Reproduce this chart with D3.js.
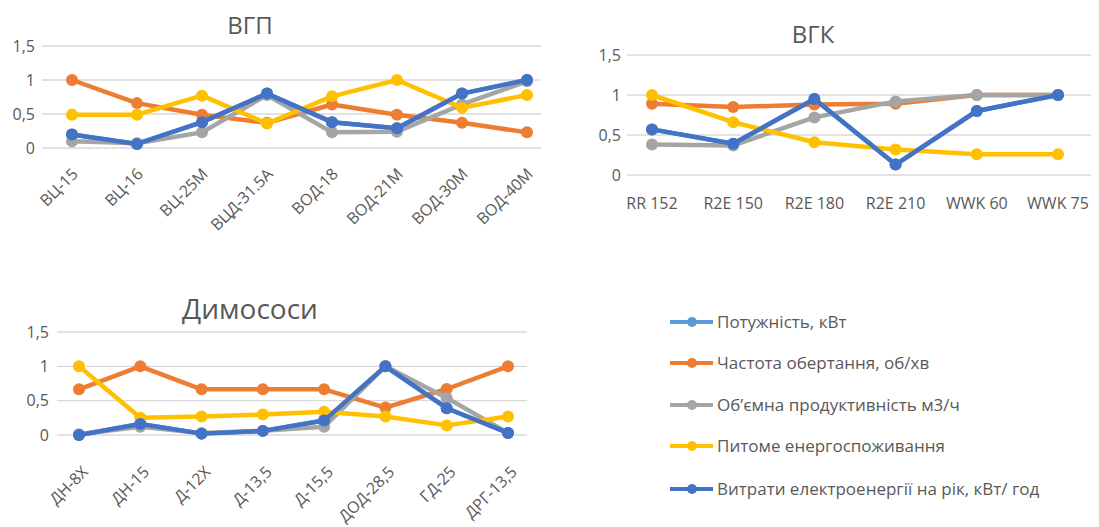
<!DOCTYPE html>
<html>
<head>
<meta charset="utf-8">
<script src="https://cdn.jsdelivr.net/npm/d3@7"></script>
<style>
  body { margin: 0; background: #fff; }
  svg text { font-family: "Open Sans", "Liberation Sans", Arial, sans-serif; fill: #595959; }
</style>
</head>
<body>
<svg id="chart" width="1099" height="527"></svg>
<script>
// Series shared by all three panels
const seriesNames = [
  "Потужність, кВт",
  "Частота обертання, об/хв",
  "Об’ємна продуктивність м3/ч",
  "Питоме енергоспоживання",
  "Витрати електроенергії на рік, кВт/ год"
];
const seriesColors = ["#5B9BD5", "#ED7D31", "#A5A5A5", "#FFC000", "#4472C4"];

const yTickValues = [0, 0.5, 1, 1.5];
const yTickLabels = ["0", "0,5", "1", "1,5"];

// ВГП
const vgpCategories = ["ВЦ-15", "ВЦ-16", "ВЦ-25М", "ВЦД-31.5А", "ВОД-18", "ВОД-21М", "ВОД-30М", "ВОД-40М"];
const vgpPower     = [0.2, 0.06, 0.38, 0.8, 0.38, 0.29, 0.8, 1.0];
const vgpSpeed     = [1.0, 0.66, 0.49, 0.37, 0.64, 0.49, 0.37, 0.23];
const vgpFlow      = [0.1, 0.07, 0.23, 0.78, 0.23, 0.24, 0.64, 0.98];
const vgpSpecific  = [0.49, 0.49, 0.77, 0.36, 0.76, 1.0, 0.59, 0.78];
const vgpAnnual    = [0.2, 0.06, 0.38, 0.8, 0.38, 0.29, 0.8, 1.0];

// ВГК
const vgkCategories = ["RR 152", "R2E 150", "R2E 180", "R2E 210", "WWK 60", "WWK 75"];
const vgkPower     = [0.57, 0.39, 0.95, 0.13, 0.8, 1.0];
const vgkSpeed     = [0.89, 0.85, 0.88, 0.89, 1.0, 1.0];
const vgkFlow      = [0.38, 0.37, 0.72, 0.92, 1.0, 1.0];
const vgkSpecific  = [1.0, 0.66, 0.41, 0.32, 0.26, 0.26];
const vgkAnnual    = [0.57, 0.39, 0.95, 0.13, 0.8, 1.0];

// Димососи
const fanCategories = ["ДН-8Х", "ДН-15", "Д-12Х", "Д-13,5", "Д-15,5", "ДОД-28,5", "ГД-25", "ДРГ-13,5"];
const fanPower     = [0.0, 0.16, 0.02, 0.06, 0.21, 1.0, 0.39, 0.03];
const fanSpeed     = [0.665, 1.0, 0.665, 0.665, 0.665, 0.4, 0.67, 1.0];
const fanFlow      = [0.01, 0.12, 0.03, 0.06, 0.12, 1.0, 0.54, 0.03];
const fanSpecific  = [1.0, 0.25, 0.27, 0.3, 0.34, 0.27, 0.14, 0.27];
const fanAnnual    = [0.0, 0.16, 0.02, 0.06, 0.21, 1.0, 0.39, 0.03];

const svg = d3.select("#chart");

const panels = [
  {
    title: "ВГП", titleX: 250, titleY: 25, titleSize: 24, titleBox: false,
    categories: vgpCategories,
    series: [vgpPower, vgpSpeed, vgpFlow, vgpSpecific, vgpAnnual],
    xRange: [72, 527], gridRange: [42, 541], yRange: [148, 46],
    tickX: 35, rotate: true, labelDx: 7, labelY: 175
  },
  {
    title: "ВГК", titleX: 813, titleY: 34, titleSize: 24, titleBox: false,
    categories: vgkCategories,
    series: [vgkPower, vgkSpeed, vgkFlow, vgkSpecific, vgkAnnual],
    xRange: [652, 1058], gridRange: [627, 1091], yRange: [175, 55],
    tickX: 621, rotate: false, labelY: 203
  },
  {
    title: "Димососи", titleX: 250, titleY: 309, titleSize: 28, titleBox: true,
    categories: fanCategories,
    series: [fanPower, fanSpeed, fanFlow, fanSpecific, fanAnnual],
    xRange: [79, 508], gridRange: [57, 527], yRange: [435, 332],
    tickX: 49, rotate: true, labelDx: 10, labelY: 473
  }
];

panels.forEach(p => {
  const g = svg.append("g");
  const x = d3.scalePoint().domain(p.categories).range(p.xRange);
  const y = d3.scaleLinear().domain([0, 1.5]).range(p.yRange);

  // horizontal gridlines
  g.append("g").selectAll("line").data(yTickValues).join("line")
    .attr("x1", p.gridRange[0]).attr("x2", p.gridRange[1])
    .attr("y1", d => y(d)).attr("y2", d => y(d))
    .attr("stroke", "#D9D9D9").attr("stroke-width", 1.3);

  // title, with a white backing box where it sits over a gridline
  const tg = g.append("g");
  const t = tg.append("text")
    .attr("x", p.titleX).attr("y", p.titleY).attr("dy", "0.36em")
    .attr("text-anchor", "middle")
    .style("font-size", p.titleSize + "px")
    .text(p.title);
  if (p.titleBox) {
    const b = t.node().getBBox();
    tg.insert("rect", () => t.node())
      .attr("x", b.x - 12).attr("y", b.y - 4)
      .attr("width", b.width + 24).attr("height", b.height + 8)
      .attr("fill", "#fff");
  }

  // y tick labels
  g.append("g").selectAll("text").data(yTickValues).join("text")
    .attr("x", p.tickX).attr("y", d => y(d))
    .attr("dy", "0.36em").attr("text-anchor", "end")
    .style("font-size", "16px")
    .text((d, i) => yTickLabels[i]);

  // category labels
  const xl = g.append("g").selectAll("text").data(p.categories).join("text")
    .style("font-size", "16px")
    .text(d => d);
  if (p.rotate) {
    xl.attr("text-anchor", "end")
      .attr("transform", d => `translate(${x(d) + p.labelDx},${p.labelY}) rotate(-45)`);
  } else {
    xl.attr("text-anchor", "middle").attr("x", d => x(d)).attr("y", p.labelY).attr("dy", "0.36em");
  }

  // series lines and markers
  const line = d3.line().x((d, i) => x(p.categories[i])).y(d => y(d));
  p.series.forEach((vals, si) => {
    const sg = g.append("g");
    sg.append("path").datum(vals)
      .attr("d", line).attr("fill", "none")
      .attr("stroke", seriesColors[si]).attr("stroke-width", 4.5)
      .attr("stroke-linejoin", "round");
    sg.selectAll("circle").data(vals).join("circle")
      .attr("cx", (d, i) => x(p.categories[i])).attr("cy", d => y(d))
      .attr("r", 6).attr("fill", seriesColors[si]);
  });
});

// legend
const legendRows = [322, 363, 405, 446, 489];
const legend = svg.append("g").selectAll("g").data(seriesNames).join("g")
  .attr("transform", (d, i) => `translate(0,${legendRows[i]})`);
legend.append("line")
  .attr("x1", 670).attr("x2", 713).attr("y1", 0).attr("y2", 0)
  .attr("stroke", (d, i) => seriesColors[i]).attr("stroke-width", 4);
legend.append("circle")
  .attr("cx", 692).attr("cy", 0).attr("r", 5)
  .attr("fill", (d, i) => seriesColors[i]);
legend.append("text")
  .attr("x", 717).attr("y", 0).attr("dy", "0.36em")
  .style("font-size", "17px")
  .text(d => d);
</script>
</body>
</html>
